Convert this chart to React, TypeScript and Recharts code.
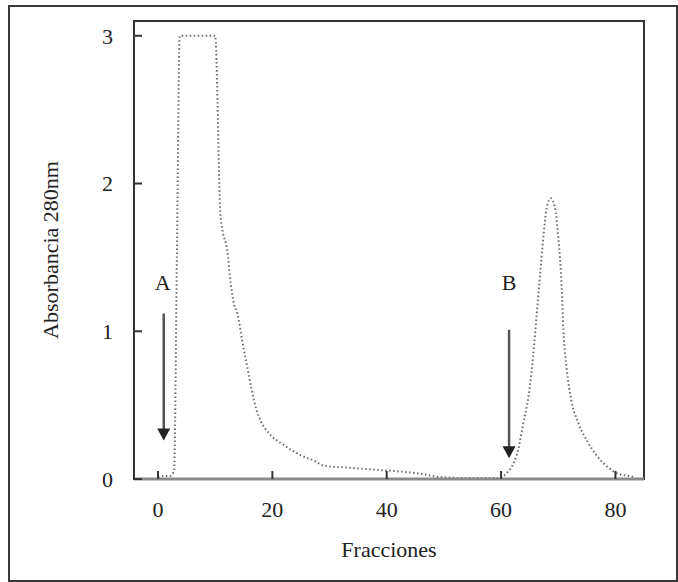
import {
  Line,
  LineChart,
  ReferenceArea,
  ReferenceDot,
  ReferenceLine,
  XAxis,
  YAxis,
} from "recharts";

// fraction number vs absorbance at 280 nm
const fractions = [
  0, 1, 2, 2.8, 3.3, 3.8, 10, 10.9, 11.3, 12.1, 12.7, 13.3, 13.9, 14.7, 15.6,
  16.4, 17.2, 18, 19.4, 22, 25, 27.5, 29, 34, 39, 42.5, 46, 49.5, 55, 59.5, 61,
  62.1, 63, 63.9, 64.8, 65.6, 66.2, 66.8, 67.4, 68, 68.7, 69.4, 70, 70.6, 70.9,
  71.5, 72.3, 73.5, 75, 76.7, 79, 80.5, 82.5, 83.5,
];
const absorbance = [
  0.01, 0.02, 0.02, 0.05, 1.5, 3.0, 3.0, 1.8, 1.68, 1.55, 1.33, 1.18, 1.12, 0.94,
  0.76, 0.6, 0.47, 0.39, 0.31, 0.23, 0.16, 0.12, 0.09, 0.075, 0.06, 0.05, 0.035,
  0.012, 0.006, 0.006, 0.04, 0.1, 0.2, 0.38, 0.56, 0.83, 1.1, 1.37, 1.64, 1.84,
  1.9, 1.84, 1.64, 1.3, 1.01, 0.74, 0.53, 0.38, 0.26, 0.16, 0.07, 0.035, 0.02,
  0.01,
];

const xTicks = [0, 20, 40, 60, 80];
const yTicks = [0, 1, 2, 3];
const xDomain = [-4.2, 85];
const yDomain = [0, 3.1];

// injection markers: label position + arrow (from -> to)
const markers = [
  { name: "A", x: 1, labelX: 0.8, labelY: 1.33, from: 1.12, to: 0.26 },
  { name: "B", x: 61.4, labelX: 61.4, labelY: 1.33, from: 1.01, to: 0.14 },
];

const SERIF = "'Liberation Serif', 'Times New Roman', serif";

const data = fractions.map((f, i) => ({ f, a: absorbance[i] }));

function Arrow(props: any) {
  const { x1, y1, x2, y2 } = props;
  const head = 12;
  return (
    <g>
      <line x1={x1} y1={y1} x2={x2} y2={y2 - head + 1} stroke="#555" strokeWidth={2.5} />
      <polygon
        points={`${x2 - 6.5},${y2 - head} ${x2 + 6.5},${y2 - head} ${x2},${y2}`}
        fill="#222"
      />
    </g>
  );
}

export default function App() {
  return (
    <div
      style={{
        position: "absolute",
        left: 0,
        top: 0,
        width: 678,
        height: 582,
        background: "#fff",
      }}
    >
      <div
        style={{
          position: "absolute",
          left: 8,
          top: 5,
          width: 666,
          height: 573,
          border: "2px solid #3a3a3a",
        }}
      />
      <div style={{ position: "absolute", left: 0, top: 0 }}>
        <LineChart
          width={678}
          height={582}
          data={data}
          margin={{ top: 21, right: 34, bottom: 0, left: 0 }}
        >
          <ReferenceArea
            x1={xDomain[0]}
            x2={xDomain[1]}
            y1={yDomain[0]}
            y2={yDomain[1]}
            fill="none"
            stroke="#333"
            strokeWidth={2}
            ifOverflow="visible"
          />
          <XAxis
            dataKey="f"
            type="number"
            domain={xDomain}
            ticks={xTicks}
            allowDataOverflow
            height={103}
            tickSize={-8}
            tickMargin={30}
            tick={{ fontSize: 22, fill: "#222", fontFamily: SERIF }}
            tickLine={{ stroke: "#333", strokeWidth: 2 }}
            axisLine={{ stroke: "#8a8a8a", strokeWidth: 3 }}
            label={{
              value: "Fracciones",
              position: "insideBottom",
              offset: 25,
              style: { fontSize: 22, fill: "#222", fontFamily: SERIF },
            }}
          />
          <YAxis
            type="number"
            domain={yDomain}
            ticks={yTicks}
            allowDataOverflow
            width={134}
            tickSize={-8}
            tickMargin={29}
            tick={{ fontSize: 22, fill: "#222", fontFamily: SERIF }}
            tickLine={{ stroke: "#333", strokeWidth: 2 }}
            axisLine={{ stroke: "#333", strokeWidth: 2 }}
            label={{
              value: "Absorbancia 280nm",
              angle: -90,
              position: "insideLeft",
              offset: 50,
              style: {
                fontSize: 22,
                fill: "#222",
                fontFamily: SERIF,
                textAnchor: "middle",
              },
            }}
          />

          <Line
            type="monotone"
            dataKey="a"
            stroke="#6a6a6a"
            strokeWidth={2}
            strokeDasharray="1.5 2.5"
            dot={false}
            isAnimationActive={false}
          />

          {markers.map((m) => (
            <ReferenceLine
              key={m.name + "-arrow"}
              segment={[
                { x: m.x, y: m.from },
                { x: m.x, y: m.to },
              ]}
              shape={Arrow}
              ifOverflow="visible"
            />
          ))}
          {markers.map((m) => (
            <ReferenceDot
              key={m.name + "-label"}
              x={m.labelX}
              y={m.labelY}
              r={0}
              fill="none"
              stroke="none"
              label={{
                value: m.name,
                position: "center",
                style: { fontSize: 22, fill: "#222", fontFamily: SERIF },
              }}
            />
          ))}
        </LineChart>
      </div>
    </div>
  );
}
